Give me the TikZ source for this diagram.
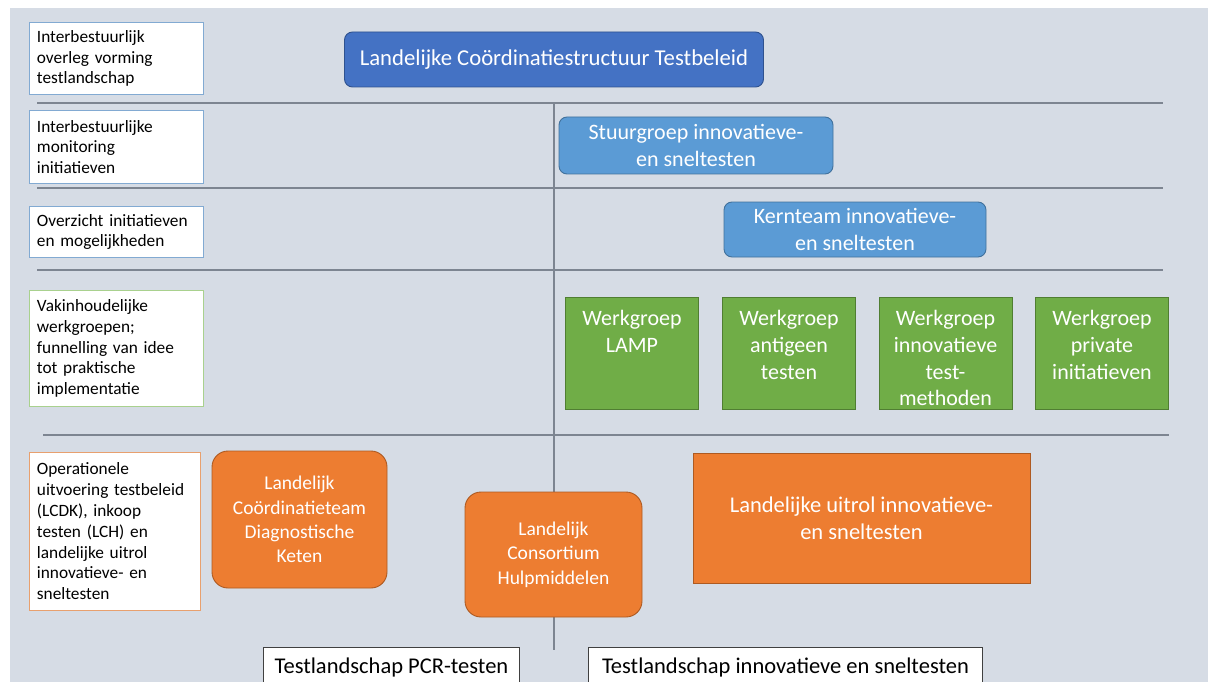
\documentclass[tikz,border=0pt]{standalone}
\usepackage{fontspec}
\setmainfont{Carlito}
\usetikzlibrary{positioning}

\definecolor{achtergrond}{RGB}{214,220,229}
\definecolor{lijngrijs}{RGB}{125,133,145}
\definecolor{donkerblauw}{RGB}{68,114,196}
\definecolor{donkerblauwrand}{RGB}{47,82,143}
\definecolor{lichtblauw}{RGB}{91,155,213}
\definecolor{lichtblauwrand}{RGB}{65,113,156}
\definecolor{groen}{RGB}{112,173,71}
\definecolor{groenrand}{RGB}{80,126,50}
\definecolor{oranje}{RGB}{237,125,49}
\definecolor{oranjerand}{RGB}{174,90,33}
\definecolor{randblauw}{RGB}{130,170,210}
\definecolor{randgroen}{RGB}{169,209,142}
\definecolor{randoranje}{RGB}{232,160,110}

% tekst bovenaan in een werkgroep-blok
\newcommand{\bovenaan}[1]{\parbox[t][86pt][t]{129pt}{\centering #1}}

\begin{document}
\begin{tikzpicture}[x=1pt,y=-1pt,
    scheiding/.style={draw=lijngrijs,line width=1.1pt},
    niveau/.style={draw=randblauw,fill=white,line width=0.9pt,anchor=north west,
      text width=159pt,inner xsep=7.5pt,align=left,font=\fontsize{17.3}{20.8}\selectfont},
    blauwblok/.style={draw=#1rand,fill=#1,rounded corners=8pt,line width=0.9pt,
      text=white,align=center,font=\fontsize{22}{27.5}\selectfont},
    werkgroep/.style={draw=groenrand,fill=groen,line width=0.9pt,anchor=north,
      minimum width=133pt,minimum height=112pt,inner sep=0pt,text=white,
      font=\fontsize{22}{26.7}\selectfont},
    oranjeblok/.style={draw=oranjerand,fill=oranje,line width=0.9pt,text=white,
      align=center,font=\fontsize{19.5}{24.3}\selectfont},
    landschap/.style={draw=black!75,fill=white,line width=0.9pt,anchor=north west,
      minimum height=40pt,font=\fontsize{22.5}{25}\selectfont}]

  \useasboundingbox (0,0) rectangle (1208,682);
  \fill[achtergrond] (10,8) rectangle (1208,682);

  % scheidingslijnen tussen de niveaus
  \coordinate (l1a) at (37,103);  \coordinate (l1b) at (1163,103);
  \coordinate (l2a) at (37,188);  \coordinate (l2b) at (1163,188);
  \coordinate (l3a) at (37,270);  \coordinate (l3b) at (1163,270);
  \coordinate (l4a) at (43,435);  \coordinate (l4b) at (1169,435);
  \coordinate (vbov) at (554,103); \coordinate (vond) at (554,650);
  \draw[scheiding] (l1a) -- (l1b);
  \draw[scheiding] (l2a) -- (l2b);
  \draw[scheiding] (l3a) -- (l3b);
  \draw[scheiding] (l4a) -- (l4b);
  \draw[scheiding] (vbov) -- (vond);

  % niveaus links
  \node[niveau,minimum height=72pt] (n1) at (29,22) {Interbestuurlijk\\overleg vorming\\testlandschap};
  \node[niveau,minimum height=73pt] (n2) at (29,110) {Interbestuurlijke\\monitoring\\initiatieven};
  \node[niveau,minimum height=51pt] (n3) at (29,206) {Overzicht initiatieven\\en mogelijkheden};
  \node[niveau,draw=randgroen,minimum height=116pt] (n4) at (29,290) {Vakinhoudelijke\\werkgroepen;\\funnelling van idee\\tot praktische\\implementatie};
  \node[niveau,draw=randoranje,text width=156pt,minimum height=158pt] (n5) at (29,452) {Operationele\\uitvoering testbeleid\\(LCDK), inkoop\\testen (LCH) en\\landelijke uitrol\\innovatieve- en\\sneltesten};

  % coordinatie
  \node[blauwblok=donkerblauw,minimum width=419pt,minimum height=55pt,font=\fontsize{22.7}{27}\selectfont] (lcts) at (554,59.5) {Landelijke Coördinatiestructuur Testbeleid};
  \node[blauwblok=lichtblauw,minimum width=274pt,minimum height=57pt] (stuur) at (696,145.5) {Stuurgroep innovatieve-\\en sneltesten};
  \node[blauwblok=lichtblauw,minimum width=262pt,minimum height=55pt] (kern) at (855,229.5) {Kernteam innovatieve-\\en sneltesten};

  % werkgroepen
  \node[werkgroep] (wg1) at (632,297) {\bovenaan{Werkgroep\\LAMP}};
  \node[werkgroep] (wg2) at (789,297) {\bovenaan{Werkgroep\\antigeen\\testen}};
  \node[werkgroep] (wg3) at (945.5,297) {\bovenaan{Werkgroep\\innovatieve\\test-\\methoden}};
  \node[werkgroep] (wg4) at (1102,297) {\bovenaan{Werkgroep\\private\\initiatieven}};

  % uitvoering
  \node[oranjeblok,rounded corners=16pt,minimum width=175pt,minimum height=137pt] (lcdk) at (299.5,519.5) {Landelijk\\Coördinatieteam\\Diagnostische\\Keten};
  \node[oranjeblok,rounded corners=16pt,minimum width=177pt,minimum height=125pt] (lch) at (553.5,554.5) {Landelijk\\Consortium\\Hulpmiddelen};
  \node[oranjeblok,minimum width=337pt,minimum height=130pt,font=\fontsize{22.5}{27}\selectfont] (uitrol) at (861.5,518) {Landelijke uitrol innovatieve-\\en sneltesten};

  % testlandschappen
  \node[landschap,minimum width=256pt] (pcr) at (263,647) {Testlandschap PCR-testen};
  \node[landschap,minimum width=394pt] (snel) at (588,647) {Testlandschap innovatieve en sneltesten};
\end{tikzpicture}
\end{document}
